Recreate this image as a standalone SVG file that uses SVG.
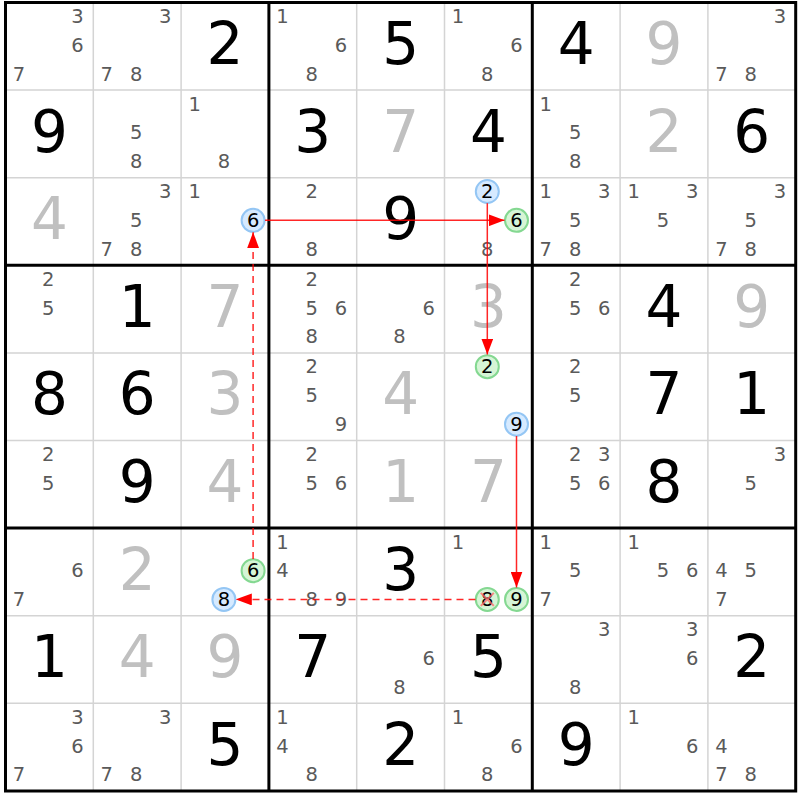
<svg xmlns="http://www.w3.org/2000/svg" width="800" height="800" viewBox="0 0 800 800">
<style>
text{font-family:"DejaVu Sans","Liberation Sans",sans-serif;text-anchor:middle}
.k{font-size:19.5px;fill:#5a5a5a}
.b{font-size:58px;fill:#000}
.s{font-size:58px;fill:#c0c0c0}
.h{font-size:19.5px;fill:#000}
.thin{stroke:#d4d4d4;stroke-width:1.5}
.thick{stroke:#000;stroke-width:3}
.cb{fill:#d6eaff;stroke:#94c6f4;stroke-width:2}
.cg{fill:#d6f5d6;stroke:#84d891;stroke-width:2}
.a{stroke:#ff0000;stroke-width:1.5;fill:none;stroke-opacity:0.85}
.d{stroke-dasharray:7,5}
</style>
<defs>
<marker id="ah" viewBox="0 0 16 12" refX="16" refY="6" markerWidth="16" markerHeight="12" markerUnits="userSpaceOnUse" orient="auto">
<path d="M0,0 L16,6 L0,12 z" fill="#ff0000"/>
</marker>
</defs>
<rect x="0" y="0" width="800" height="800" fill="#fff"/>
<g id="grid">
<path class="thin" d="M93.3,2.5V790.9M181.1,2.5V790.9M356.7,2.5V790.9M444.5,2.5V790.9M620.1,2.5V790.9M707.9,2.5V790.9M5.5,90.1H795.7M5.5,177.7H795.7M5.5,352.9H795.7M5.5,440.5H795.7M5.5,615.7H795.7M5.5,703.3H795.7"/>
<path class="thick" d="M5.5,2.5V790.9M268.9,2.5V790.9M532.3,2.5V790.9M795.7,2.5V790.9M4,2.5H797.2M4,265.3H797.2M4,528.1H797.2M4,790.9H797.2"/>
</g>
<g id="r0">
<g id="r0c0"><text class="k" x="77.5" y="23">3</text><text class="k" x="77.5" y="51.8">6</text><text class="k" x="19" y="80.5">7</text></g>
<g id="r0c1"><text class="k" x="165.3" y="23">3</text><text class="k" x="106.8" y="80.5">7</text><text class="k" x="136.1" y="80.5">8</text></g>
<g id="r0c2"><text class="b" x="225" y="64">2</text></g>
<g id="r0c3"><text class="k" x="282.4" y="23">1</text><text class="k" x="340.9" y="51.8">6</text><text class="k" x="311.7" y="80.5">8</text></g>
<g id="r0c4"><text class="b" x="400.6" y="64">5</text></g>
<g id="r0c5"><text class="k" x="458" y="23">1</text><text class="k" x="516.5" y="51.8">6</text><text class="k" x="487.3" y="80.5">8</text></g>
<g id="r0c6"><text class="b" x="576.2" y="64">4</text></g>
<g id="r0c7"><text class="s" x="664" y="64">9</text></g>
<g id="r0c8"><text class="k" x="779.9" y="23">3</text><text class="k" x="721.4" y="80.5">7</text><text class="k" x="750.7" y="80.5">8</text></g>
</g>
<g id="r1">
<g id="r1c0"><text class="b" x="49.4" y="151.6">9</text></g>
<g id="r1c1"><text class="k" x="136.1" y="139.4">5</text><text class="k" x="136.1" y="168.1">8</text></g>
<g id="r1c2"><text class="k" x="194.6" y="110.6">1</text><text class="k" x="223.9" y="168.1">8</text></g>
<g id="r1c3"><text class="b" x="312.8" y="151.6">3</text></g>
<g id="r1c4"><text class="s" x="400.6" y="151.6">7</text></g>
<g id="r1c5"><text class="b" x="488.4" y="151.6">4</text></g>
<g id="r1c6"><text class="k" x="545.8" y="110.6">1</text><text class="k" x="575.1" y="139.4">5</text><text class="k" x="575.1" y="168.1">8</text></g>
<g id="r1c7"><text class="s" x="664" y="151.6">2</text></g>
<g id="r1c8"><text class="b" x="751.8" y="151.6">6</text></g>
</g>
<g id="r2">
<g id="r2c0"><text class="s" x="49.4" y="239.2">4</text></g>
<g id="r2c1"><text class="k" x="165.3" y="198.2">3</text><text class="k" x="136.1" y="227">5</text><text class="k" x="106.8" y="255.7">7</text><text class="k" x="136.1" y="255.7">8</text></g>
<g id="r2c2"><text class="k" x="194.6" y="198.2">1</text><circle class="cb" cx="253.1" cy="220.3" r="11.5"/><text class="h" x="253.1" y="227">6</text></g>
<g id="r2c3"><text class="k" x="311.7" y="198.2">2</text><text class="k" x="311.7" y="255.7">8</text></g>
<g id="r2c4"><text class="b" x="400.6" y="239.2">9</text></g>
<g id="r2c5"><circle class="cb" cx="487.3" cy="191.5" r="11.5"/><text class="h" x="487.3" y="198.2">2</text><circle class="cg" cx="516.5" cy="220.3" r="11.5"/><text class="h" x="516.5" y="227">6</text><text class="k" x="487.3" y="255.7">8</text></g>
<g id="r2c6"><text class="k" x="545.8" y="198.2">1</text><text class="k" x="604.3" y="198.2">3</text><text class="k" x="575.1" y="227">5</text><text class="k" x="545.8" y="255.7">7</text><text class="k" x="575.1" y="255.7">8</text></g>
<g id="r2c7"><text class="k" x="633.6" y="198.2">1</text><text class="k" x="692.1" y="198.2">3</text><text class="k" x="662.9" y="227">5</text></g>
<g id="r2c8"><text class="k" x="779.9" y="198.2">3</text><text class="k" x="750.7" y="227">5</text><text class="k" x="721.4" y="255.7">7</text><text class="k" x="750.7" y="255.7">8</text></g>
</g>
<g id="r3">
<g id="r3c0"><text class="k" x="48.3" y="285.8">2</text><text class="k" x="48.3" y="314.6">5</text></g>
<g id="r3c1"><text class="b" x="137.2" y="326.8">1</text></g>
<g id="r3c2"><text class="s" x="225" y="326.8">7</text></g>
<g id="r3c3"><text class="k" x="311.7" y="285.8">2</text><text class="k" x="311.7" y="314.6">5</text><text class="k" x="340.9" y="314.6">6</text><text class="k" x="311.7" y="343.3">8</text></g>
<g id="r3c4"><text class="k" x="428.7" y="314.6">6</text><text class="k" x="399.5" y="343.3">8</text></g>
<g id="r3c5"><text class="s" x="488.4" y="326.8">3</text></g>
<g id="r3c6"><text class="k" x="575.1" y="285.8">2</text><text class="k" x="575.1" y="314.6">5</text><text class="k" x="604.3" y="314.6">6</text></g>
<g id="r3c7"><text class="b" x="664" y="326.8">4</text></g>
<g id="r3c8"><text class="s" x="751.8" y="326.8">9</text></g>
</g>
<g id="r4">
<g id="r4c0"><text class="b" x="49.4" y="414.4">8</text></g>
<g id="r4c1"><text class="b" x="137.2" y="414.4">6</text></g>
<g id="r4c2"><text class="s" x="225" y="414.4">3</text></g>
<g id="r4c3"><text class="k" x="311.7" y="373.4">2</text><text class="k" x="311.7" y="402.2">5</text><text class="k" x="340.9" y="430.9">9</text></g>
<g id="r4c4"><text class="s" x="400.6" y="414.4">4</text></g>
<g id="r4c5"><circle class="cg" cx="487.3" cy="366.7" r="11.5"/><text class="h" x="487.3" y="373.4">2</text><circle class="cb" cx="516.5" cy="424.2" r="11.5"/><text class="h" x="516.5" y="430.9">9</text></g>
<g id="r4c6"><text class="k" x="575.1" y="373.4">2</text><text class="k" x="575.1" y="402.2">5</text></g>
<g id="r4c7"><text class="b" x="664" y="414.4">7</text></g>
<g id="r4c8"><text class="b" x="751.8" y="414.4">1</text></g>
</g>
<g id="r5">
<g id="r5c0"><text class="k" x="48.3" y="461">2</text><text class="k" x="48.3" y="489.8">5</text></g>
<g id="r5c1"><text class="b" x="137.2" y="502">9</text></g>
<g id="r5c2"><text class="s" x="225" y="502">4</text></g>
<g id="r5c3"><text class="k" x="311.7" y="461">2</text><text class="k" x="311.7" y="489.8">5</text><text class="k" x="340.9" y="489.8">6</text></g>
<g id="r5c4"><text class="s" x="400.6" y="502">1</text></g>
<g id="r5c5"><text class="s" x="488.4" y="502">7</text></g>
<g id="r5c6"><text class="k" x="575.1" y="461">2</text><text class="k" x="604.3" y="461">3</text><text class="k" x="575.1" y="489.8">5</text><text class="k" x="604.3" y="489.8">6</text></g>
<g id="r5c7"><text class="b" x="664" y="502">8</text></g>
<g id="r5c8"><text class="k" x="779.9" y="461">3</text><text class="k" x="750.7" y="489.8">5</text></g>
</g>
<g id="r6">
<g id="r6c0"><text class="k" x="77.5" y="577.4">6</text><text class="k" x="19" y="606.1">7</text></g>
<g id="r6c1"><text class="s" x="137.2" y="589.6">2</text></g>
<g id="r6c2"><circle class="cg" cx="253.1" cy="570.7" r="11.5"/><text class="h" x="253.1" y="577.4">6</text><circle class="cb" cx="223.9" cy="599.4" r="11.5"/><text class="h" x="223.9" y="606.1">8</text></g>
<g id="r6c3"><text class="k" x="282.4" y="548.6">1</text><text class="k" x="282.4" y="577.4">4</text><text class="k" x="311.7" y="606.1">8</text><text class="k" x="340.9" y="606.1">9</text></g>
<g id="r6c4"><text class="b" x="400.6" y="589.6">3</text></g>
<g id="r6c5"><text class="k" x="458" y="548.6">1</text><circle class="cg" cx="487.3" cy="599.4" r="11.5"/><text class="h" x="487.3" y="606.1">8</text><path d="M480.8,592.9L493.8,605.9M493.8,592.9L480.8,605.9" stroke="#ff6a6a" stroke-width="2" stroke-opacity="0.8"/><circle class="cg" cx="516.5" cy="599.4" r="11.5"/><text class="h" x="516.5" y="606.1">9</text></g>
<g id="r6c6"><text class="k" x="545.8" y="548.6">1</text><text class="k" x="575.1" y="577.4">5</text><text class="k" x="545.8" y="606.1">7</text></g>
<g id="r6c7"><text class="k" x="633.6" y="548.6">1</text><text class="k" x="662.9" y="577.4">5</text><text class="k" x="692.1" y="577.4">6</text></g>
<g id="r6c8"><text class="k" x="721.4" y="577.4">4</text><text class="k" x="750.7" y="577.4">5</text><text class="k" x="721.4" y="606.1">7</text></g>
</g>
<g id="r7">
<g id="r7c0"><text class="b" x="49.4" y="677.2">1</text></g>
<g id="r7c1"><text class="s" x="137.2" y="677.2">4</text></g>
<g id="r7c2"><text class="s" x="225" y="677.2">9</text></g>
<g id="r7c3"><text class="b" x="312.8" y="677.2">7</text></g>
<g id="r7c4"><text class="k" x="428.7" y="665">6</text><text class="k" x="399.5" y="693.7">8</text></g>
<g id="r7c5"><text class="b" x="488.4" y="677.2">5</text></g>
<g id="r7c6"><text class="k" x="604.3" y="636.2">3</text><text class="k" x="575.1" y="693.7">8</text></g>
<g id="r7c7"><text class="k" x="692.1" y="636.2">3</text><text class="k" x="692.1" y="665">6</text></g>
<g id="r7c8"><text class="b" x="751.8" y="677.2">2</text></g>
</g>
<g id="r8">
<g id="r8c0"><text class="k" x="77.5" y="723.8">3</text><text class="k" x="77.5" y="752.6">6</text><text class="k" x="19" y="781.3">7</text></g>
<g id="r8c1"><text class="k" x="165.3" y="723.8">3</text><text class="k" x="106.8" y="781.3">7</text><text class="k" x="136.1" y="781.3">8</text></g>
<g id="r8c2"><text class="b" x="225" y="764.8">5</text></g>
<g id="r8c3"><text class="k" x="282.4" y="723.8">1</text><text class="k" x="282.4" y="752.6">4</text><text class="k" x="311.7" y="781.3">8</text></g>
<g id="r8c4"><text class="b" x="400.6" y="764.8">2</text></g>
<g id="r8c5"><text class="k" x="458" y="723.8">1</text><text class="k" x="516.5" y="752.6">6</text><text class="k" x="487.3" y="781.3">8</text></g>
<g id="r8c6"><text class="b" x="576.2" y="764.8">9</text></g>
<g id="r8c7"><text class="k" x="633.6" y="723.8">1</text><text class="k" x="692.1" y="752.6">6</text></g>
<g id="r8c8"><text class="k" x="721.4" y="752.6">4</text><text class="k" x="721.4" y="781.3">7</text><text class="k" x="750.7" y="781.3">8</text></g>
</g>
<g id="connectors">
<line class="a" x1="265" y1="220.3" x2="504.5" y2="220.3" marker-end="url(#ah)"/>
<line class="a" x1="487.3" y1="203.2" x2="487.3" y2="354.5" marker-end="url(#ah)"/>
<line class="a" x1="516.5" y1="436" x2="516.5" y2="587.5" marker-end="url(#ah)"/>
<line class="a d" x1="475.5" y1="599.4" x2="235.8" y2="599.4" marker-end="url(#ah)"/>
<line class="a d" x1="253.1" y1="559" x2="253.1" y2="232.2" marker-end="url(#ah)"/>
</g>
</svg>
